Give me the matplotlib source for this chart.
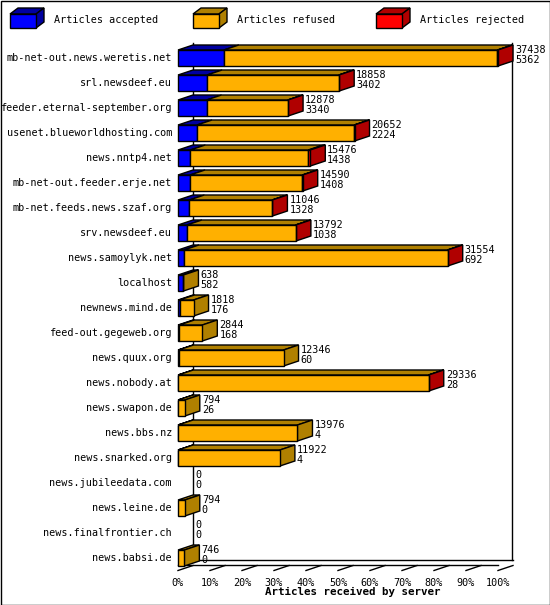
import matplotlib
matplotlib.use("Agg")
import matplotlib.pyplot as plt
from matplotlib.patches import Rectangle, Polygon

servers = ["mb-net-out.news.weretis.net", "srl.newsdeef.eu", "feeder.eternal-september.org",
           "usenet.blueworldhosting.com", "news.nntp4.net", "mb-net-out.feeder.erje.net",
           "mb-net.feeds.news.szaf.org", "srv.newsdeef.eu", "news.samoylyk.net", "localhost",
           "newnews.mind.de", "feed-out.gegeweb.org", "news.quux.org", "news.nobody.at",
           "news.swapon.de", "news.bbs.nz", "news.snarked.org", "news.jubileedata.com",
           "news.leine.de", "news.finalfrontier.ch", "news.babsi.de"]
offered = [37438, 18858, 12878, 20652, 15476, 14590, 11046, 13792, 31554, 638,
           1818, 2844, 12346, 29336, 794, 13976, 11922, 0, 794, 0, 746]
accepted = [5362, 3402, 3340, 2224, 1438, 1408, 1328, 1038, 692, 582,
            176, 168, 60, 28, 26, 4, 4, 0, 0, 0, 0]
rejected = [60, 40, 30, 30, 220, 40, 30, 30, 20, 0,
            0, 0, 0, 20, 0, 0, 0, 0, 0, 0, 0]
ticks = [0, 10, 20, 30, 40, 50, 60, 70, 80, 90, 100]

W, H = 550, 605
fig = plt.figure(figsize=(W/100, H/100), dpi=100)
fig.patch.set_facecolor("white")
ov = fig.add_axes([0, 0, 1, 1]); ov.set_xlim(0, W); ov.set_ylim(H, 0); ov.axis("off")

x0, x1 = 178, 498
ytop, ybot = 45.5, 570.5
n = len(servers)
ax = fig.add_axes([x0/W, 1-ybot/H, (x1-x0)/W, (ybot-ytop)/H])
ax.set_xlim(0, 100); ax.set_ylim(n-0.5, -0.5); ax.axis("off")

pxx = 100/(x1-x0); pxy = n/(ybot-ytop)
DX, DY = 15*pxx, 5*pxy
h = 16*pxy
mono = "DejaVu Sans Mono"
cols = [("#0000ff", "#0000a0"), ("#ffb000", "#b08000"), ("#ff0000", "#b00000")]

def box(a, x, y, w, hh, dx, dy, c, side):
    a.add_patch(Rectangle((x, y-hh/2), w, hh, fc=c[0], ec="black", lw=1, clip_on=False, zorder=3))
    a.add_patch(Polygon([(x, y-hh/2), (x+dx, y-hh/2-dy), (x+w+dx, y-hh/2-dy), (x+w, y-hh/2)],
                        fc=c[1], ec="black", lw=1, clip_on=False, zorder=2))
    if side:
        a.add_patch(Polygon([(x+w, y-hh/2), (x+w+dx, y-hh/2-dy), (x+w+dx, y+hh/2-dy), (x+w, y+hh/2)],
                            fc=c[1], ec="black", lw=1, clip_on=False, zorder=2))

mx = max(offered)
for i, s in enumerate(servers):
    tot = offered[i]/mx*100
    segs = [accepted[i], offered[i]-accepted[i]-rejected[i], rejected[i]]
    x = 0
    nz = [k for k in range(3) if segs[k] > 0]
    for k in range(3):
        w = segs[k]/mx*100
        if w <= 0:
            continue
        box(ax, x, i, w, h, DX, DY, cols[k], k == nz[-1])
        x += w
    ax.text(-6*pxx, i, s, ha="right", va="center", family=mono, fontsize=7.3)
    ax.text(tot+DX+2*pxx, i-3*pxy, f"{offered[i]}", ha="left", va="bottom", family=mono, fontsize=7.3)
    ax.text(tot+DX+2*pxx, i-3*pxy, f"{accepted[i]}", ha="left", va="top", family=mono, fontsize=7.3)

# back wall / floor
ov.plot([x0+15, x0+15], [43, 560], color="black", lw=1)
ov.plot([x1+14, x1+14], [43, 560], color="black", lw=1)
ov.plot([x0, x1], [565, 565], color="black", lw=1)
ov.plot([x0+15, x1+15], [560, 560], color="black", lw=1)
for t in ticks:
    ax.plot([t, t+DX], [n-0.5+0.0, n-0.5-DY], color="black", lw=1, clip_on=False)
    ax.text(t, n-0.5+7*pxy, f"{t}%", ha="center", va="top", family=mono, fontsize=7.3)
ov.text((x0+x1)/2 + 15, 592, "Articles received by server", ha="center", va="center",
        family=mono, fontsize=7.8, fontweight="bold")

# legend
for (lx, lab), c in zip([(10, "Articles accepted"), (193, "Articles refused"), (376, "Articles rejected")], cols):
    ov.add_patch(Rectangle((lx, 14), 26, 14, fc=c[0], ec="black", lw=1, zorder=3))
    ov.add_patch(Polygon([(lx, 14), (lx+8, 8), (lx+34, 8), (lx+26, 14)], fc=c[1], ec="black", lw=1))
    ov.add_patch(Polygon([(lx+26, 14), (lx+34, 8), (lx+34, 22), (lx+26, 28)], fc=c[1], ec="black", lw=1))
    ov.text(lx+44, 20, lab, ha="left", va="center", family=mono, fontsize=7.3)

ov.add_patch(Rectangle((0.5, 0.5), W-1, H-1, fill=False, ec="black", lw=1))
fig.savefig("out.png", dpi=100, facecolor="white")
